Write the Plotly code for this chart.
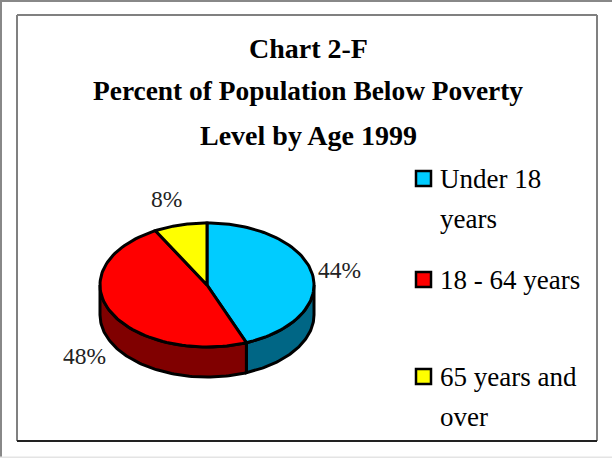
import numpy as np
import plotly.graph_objects as go

categories = ["Under 18 years", "18 - 64 years", "65 years and over"]
legend_lines = [["Under 18", "years"], ["18 - 64 years"], ["65 years and", "over"]]
shares = [44, 48, 8]
labels = ["44%", "48%", "8%"]
top_colors = ["#00CCFF", "#FF0000", "#FFFF00"]
side_colors = ["#006685", "#800000", "#808000"]
title_lines = ["Chart 2-F", "Percent of Population Below Poverty", "Level by Age 1999"]

CX, CY, RX, RY, DEPTH = 207, 285, 107, 62, 30
FONT = "Liberation Serif"
INK = "#000000"
LEGEND_Y = [178.5, 279.5, 376.5]
LINE_GAP = 40


def arc(a0, a1):
    t = np.radians(np.linspace(a0, a1, 80))
    return CX + RX * np.sin(t), CY - RY * np.cos(t)


fig = go.Figure()
edges = np.cumsum([0] + shares) / sum(shares) * 360

# side walls, drawn only where the rim faces the viewer (90..270 degrees clockwise from top)
for i in range(len(shares)):
    a0, a1 = max(edges[i], 90), min(edges[i + 1], 270)
    if a1 <= a0:
        continue
    x, y = arc(a0, a1)
    fig.add_trace(go.Scatter(
        x=np.r_[x, x[::-1], x[0]], y=np.r_[y, y[::-1] + DEPTH, y[0]],
        mode="lines", fill="toself", fillcolor=side_colors[i],
        line=dict(color=INK, width=3), showlegend=False, hoverinfo="skip"))

# top wedges
for i in range(len(shares)):
    x, y = arc(edges[i], edges[i + 1])
    fig.add_trace(go.Scatter(
        x=np.r_[CX, x, CX], y=np.r_[CY, y, CY],
        mode="lines", fill="toself", fillcolor=top_colors[i], name=categories[i],
        line=dict(color=INK, width=3), showlegend=False, hoverinfo="name"))

annotations = [dict(x=x, y=y, text=t, showarrow=False, xref="x", yref="y",
                    font=dict(family=FONT, size=23.5, color="#222222"))
               for x, y, t in [(339.5, 270, labels[0]), (84, 356, labels[1]), (166, 199, labels[2])]]
for y, t, s in zip([48, 91, 135], title_lines, [28, 27.4, 28]):
    annotations.append(dict(x=308, y=y, text=f"<b>{t}</b>", showarrow=False, xref="x", yref="y",
                            font=dict(family=FONT, size=s, color="#000000")))

# legend: swatch aligned with the first text line of each entry
for i, lines in enumerate(legend_lines):
    fig.add_trace(go.Scatter(
        x=[423.5], y=[LEGEND_Y[i]], mode="markers", name=categories[i], showlegend=False,
        marker=dict(symbol="square", size=15, color=top_colors[i], line=dict(color=INK, width=2.5)),
        hoverinfo="name"))
    for j, line in enumerate(lines):
        annotations.append(dict(x=438, y=LEGEND_Y[i] + j * LINE_GAP, text=line, showarrow=False,
                                xref="x", yref="y", xanchor="left",
                                font=dict(family=FONT, size=27, color="#000000")))


def rule(x0, y0, x1, y1, color):
    return dict(type="line", xref="x", yref="y", x0=x0, y0=y0, x1=x1, y1=y1,
                line=dict(color=color, width=2))


fig.update_layout(
    width=612, height=458, margin=dict(l=0, r=0, t=0, b=0),
    paper_bgcolor="white", plot_bgcolor="white", showlegend=False,
    xaxis=dict(range=[0, 612], visible=False),
    yaxis=dict(range=[458, 0], visible=False),
    annotations=annotations,
    shapes=[
        rule(17, 15, 597, 15, "#808080"),
        rule(17, 15, 17, 441, "#808080"),
        rule(597, 15, 597, 441, "#808080"),
        rule(17, 441, 597, 441, "#222222"),
        rule(1, 0, 1, 458, "#888888"),
        rule(0, 1, 612, 1, "#888888"),
        rule(0, 457.5, 612, 457.5, "#E4E4E4"),
    ],
)
fig.write_html("out.html", config={"displayModeBar": False},
               post_script="document.body.style.margin='0';document.body.style.overflow='hidden';")
